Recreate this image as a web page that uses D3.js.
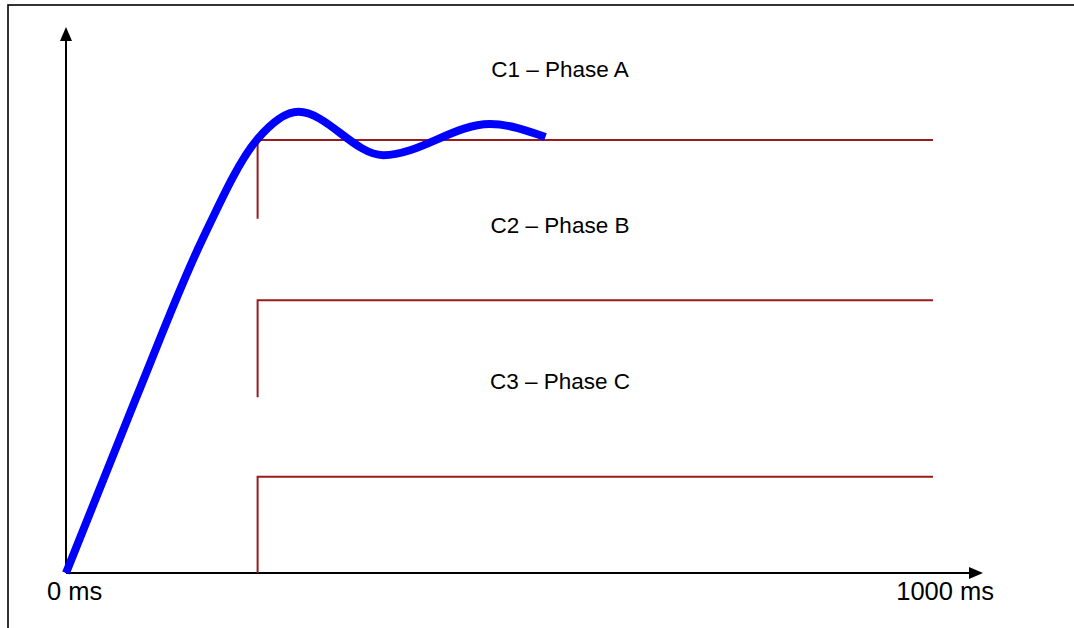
<!DOCTYPE html>
<html>
<head>
<meta charset="utf-8">
<script src="https://cdn.jsdelivr.net/npm/d3@7"></script>
<style>
	body { margin: 0; background: #fff; }
	svg { display: block; }
	text { font-family: "Liberation Sans", Arial, sans-serif; fill: #000; }
</style>
</head>
<body>
<script>
// response curve (time in ms, level relative to C1 threshold)
const curveTime = [0, 80, 157, 220, 268, 366, 489, 553];
const curveLevel = [0, 0.400, 0.769, 1.0, 1.065, 0.965, 1.037, 1.007];

// phase thresholds
const phaseNames = ['C1 \u2013 Phase A', 'C2 \u2013 Phase B', 'C3 \u2013 Phase C'];
const phaseTop = [1.0, 0.630, 0.222];
const phaseBottom = [0.818, 0.406, 0];
const phaseStart = 221;
const phaseEnd = 1000;

const axisLabels = ['0 ms', '1000 ms'];
const axisLabelTime = [10, 1014];

const width = 1074, height = 628;
const svg = d3.select('body').append('svg')
	.attr('width', width)
	.attr('height', height);

// outer frame
svg.append('rect')
	.attr('x', 8).attr('y', 5)
	.attr('width', width).attr('height', height)
	.attr('fill', 'none')
	.attr('stroke', '#000')
	.attr('stroke-width', 1.6);

let x = d3.scaleLinear().domain([0, 1000]).range([66, 933]);
let y = d3.scaleLinear().domain([0, 1]).range([573, 140]);

const axisColor = '#000';
const x0 = x(0), y0 = y(0);

// y axis with arrow
svg.append('line')
	.attr('x1', x0).attr('y1', y0)
	.attr('x2', x0).attr('y2', 38)
	.attr('stroke', axisColor).attr('stroke-width', 2);
svg.append('path')
	.attr('d', d3.line()([[x0, 27], [x0 - 6, 41], [x0 + 6, 41]]) + 'Z')
	.attr('fill', axisColor);

// x axis with arrow
svg.append('line')
	.attr('x1', x0).attr('y1', y0)
	.attr('x2', 972).attr('y2', y0)
	.attr('stroke', axisColor).attr('stroke-width', 2);
svg.append('path')
	.attr('d', d3.line()([[983, y0], [969, y0 - 6], [969, y0 + 6]]) + 'Z')
	.attr('fill', axisColor);

svg.selectAll('.axislabel')
	.data(axisLabels)
	.enter().append('text')
	.attr('class', 'axislabel')
	.attr('x', (d, i) => x(axisLabelTime[i]))
	.attr('y', 600)
	.attr('text-anchor', 'middle')
	.style('font-size', '25.5px')
	.text(d => d);

// phase step lines
const stepColor = '#991b1b';
const steps = phaseNames.map((name, i) => ({ name: name, top: phaseTop[i], bottom: phaseBottom[i] }));

svg.append('g').selectAll('path')
	.data(steps)
	.enter().append('path')
	.attr('d', d => d3.line()([
		[x(phaseStart), y(d.bottom)],
		[x(phaseStart), y(d.top)],
		[x(phaseEnd), y(d.top)]
	]))
	.attr('fill', 'none')
	.attr('stroke', stepColor)
	.attr('stroke-width', 2);

const labelLevel = [1.145, 0.785, 0.425];
svg.append('g').selectAll('text')
	.data(steps)
	.enter().append('text')
	.attr('x', 560)
	.attr('y', (d, i) => y(labelLevel[i]))
	.attr('text-anchor', 'middle')
	.style('font-size', '22.5px')
	.text(d => d.name);

// blue response curve
const pts = curveTime.map((t, i) => [x(t), y(curveLevel[i])]);
svg.append('path')
	.datum(pts)
	.attr('d', d3.line().curve(d3.curveMonotoneX))
	.attr('fill', 'none')
	.attr('stroke', '#0000ff')
	.attr('stroke-width', 8);
</script>
</body>
</html>
